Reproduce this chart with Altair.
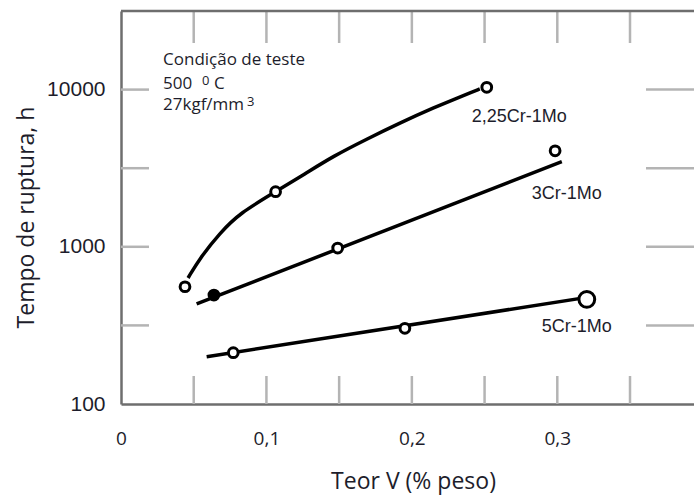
import altair as alt
import numpy as np
import pandas as pd

# ---- measured rupture times (h) versus vanadium content (% weight) ----
v_225 = [0.044, 0.1063, 0.2515]
t_225 = [557, 2241, 10340]
v_3 = [0.0639, 0.149, 0.2985]
t_3 = [493, 981, 4083]
v_5 = [0.0772, 0.1952, 0.3203]
t_5 = [212, 303, 463]

# ---- fitted trend curves ----
fit_v_225 = [0.0461, 0.0543, 0.068, 0.0818, 0.1063, 0.1265, 0.1457,
             0.1691, 0.1918, 0.2144, 0.2378, 0.2467]
fit_t_225 = [633, 849, 1224, 1641, 2241, 2910, 3760,
             4850, 6130, 7630, 9370, 10090]
fit_v_3 = [0.052, 0.3031]
fit_t_3 = [433, 3476]
fit_v_5 = [0.0589, 0.3237]
fit_t_5 = [200, 482]

# ---- series names and where they are written ----
alloys = ["2,25Cr-1Mo", "3Cr-1Mo", "5Cr-1Mo"]
label_v = [0.2412, 0.2825, 0.2893]
label_t = [6223, 2014, 287]

# ---- test condition note ----
note_text = ["Condição de teste", "500", "C", "27kgf/mm"]
note_v = [0.0289, 0.0289, 0.0639, 0.0289]
note_t = [14350, 10088, 10088, 7413]
sup_text = ["0", "3"]
sup_v = [0.0557, 0.0866]
sup_t = [10690, 7870]

# ---- axis ticks ----
x_labels = [0, 0.1, 0.2, 0.3]
y_labels = [100, 1000, 10000]
x_minor = [0.05, 0.1, 0.15, 0.2, 0.25, 0.3, 0.35]
y_minor = [316.2, 1000, 3162, 10000]

X_MAX = 0.394
Y_MIN, Y_MAX = 100, 10 ** 4.5
PLOT_W, PLOT_H = 573, 393
DECADES = np.log10(Y_MAX / Y_MIN)

TEXT = "#1d1d2b"
AXIS = "#6e6e6e"
TICK = "#b4b4b4"


def y_shift(t, px):
    return t * 10 ** (px * DECADES / PLOT_H)


def x_shift(v, px):
    return v + px * X_MAX / PLOT_W


points = pd.DataFrame({
    "alloy": [alloys[0]] * 3 + [alloys[1]] * 3 + [alloys[2]] * 3,
    "v": v_225 + v_3 + v_5,
    "t": t_225 + t_3 + t_5,
})
curve = pd.DataFrame({"alloy": alloys[0], "v": fit_v_225, "t": fit_t_225})
straight = pd.DataFrame({
    "alloy": [alloys[1]] * 2 + [alloys[2]] * 2,
    "v": fit_v_3 + fit_v_5,
    "t": fit_t_3 + fit_t_5,
})
labels = pd.DataFrame({"alloy": alloys, "v": label_v, "t": label_t})
notes = pd.DataFrame({"text": note_text, "v": note_v, "t": note_t})
sups = pd.DataFrame({"text": sup_text, "v": sup_v, "t": sup_t})

# inward tick segments on all four sides
rows = []
for v in x_minor:
    rows.append({"v": v, "v2": v, "t": Y_MIN, "t2": y_shift(Y_MIN, 28)})
    rows.append({"v": v, "v2": v, "t": Y_MAX, "t2": y_shift(Y_MAX, -32)})
for t in y_minor:
    rows.append({"v": 0, "v2": x_shift(0, 28), "t": t, "t2": t})
    rows.append({"v": x_shift(X_MAX, -48), "v2": X_MAX, "t": t, "t2": t})
ticks = pd.DataFrame(rows)

xscale = alt.Scale(domain=[0, X_MAX], nice=False, zero=False)
yscale = alt.Scale(type="log", domain=[Y_MIN, Y_MAX], nice=False)

x_axis = alt.Axis(
    values=x_labels,
    labelExpr="replace(format(datum.value, '.1~f'), '.', ',')",
    labelFont="Open Sans", labelFontSize=19, labelColor=TEXT,
    labelPadding=25, labelFlush=False,
    ticks=False, grid=False,
    domainColor=AXIS, domainWidth=2.5,
    title="Teor V (% peso)", titleFont="Open Sans", titleFontSize=23,
    titleFontWeight="normal", titleColor=TEXT,
    titleX=292, titleY=84, titleAlign="center", titleBaseline="alphabetic",
)
y_axis = alt.Axis(
    values=y_labels, format="d",
    labelFont="Liberation Sans", labelFontSize=21, labelColor=TEXT,
    labelPadding=16, ticks=False, grid=False,
    domainColor=AXIS, domainWidth=2.5,
    title="Tempo de ruptura, h", titleFont="Open Sans", titleFontSize=23,
    titleFontWeight="normal", titleColor=TEXT,
    titleX=-88, titleY=206, titleAngle=270,
    titleAlign="center", titleBaseline="alphabetic",
)

# smooth trend for 2,25Cr-1Mo; the other two alloys follow straight lines
curved_line = alt.Chart(curve).mark_line(
    color="black", strokeWidth=3.5, interpolate="basis"
).encode(
    x=alt.X("v:Q", scale=xscale, axis=x_axis),
    y=alt.Y("t:Q", scale=yscale, axis=y_axis),
)

straight_lines = alt.Chart(straight).mark_line(color="black", strokeWidth=3.5).encode(
    x=alt.X("v:Q", scale=xscale),
    y=alt.Y("t:Q", scale=yscale),
    detail="alloy:N",
)

markers = alt.Chart(points).mark_point(
    shape="circle", filled=True, stroke="black", strokeWidth=3, opacity=1
).encode(
    x=alt.X("v:Q", scale=xscale),
    y=alt.Y("t:Q", scale=yscale),
    fill=alt.condition(
        "datum.alloy == '3Cr-1Mo' && datum.v < 0.1", alt.value("black"), alt.value("white")
    ),
    size=alt.condition(
        "datum.alloy == '5Cr-1Mo' && datum.v > 0.3", alt.value(250), alt.value(95)
    ),
)

names = alt.Chart(labels).mark_text(
    align="left", baseline="alphabetic", font="Liberation Sans", fontSize=18, color=TEXT
).encode(
    x=alt.X("v:Q", scale=xscale),
    y=alt.Y("t:Q", scale=yscale),
    text="alloy:N",
)

note = alt.Chart(notes).mark_text(
    align="left", baseline="alphabetic", font="Open Sans", fontSize=17, color=TEXT
).encode(
    x=alt.X("v:Q", scale=xscale),
    y=alt.Y("t:Q", scale=yscale),
    text="text:N",
)

sup = alt.Chart(sups).mark_text(
    align="left", baseline="alphabetic", font="Open Sans", fontSize=13, color=TEXT
).encode(
    x=alt.X("v:Q", scale=xscale),
    y=alt.Y("t:Q", scale=yscale),
    text="text:N",
)

tick_marks = alt.Chart(ticks).mark_rule(color=TICK, strokeWidth=2.5).encode(
    x=alt.X("v:Q", scale=xscale),
    x2="v2:Q",
    y=alt.Y("t:Q", scale=yscale),
    y2="t2:Q",
)

top_border = alt.Chart(pd.DataFrame({"v": [0], "v2": [X_MAX], "t": [Y_MAX]})).mark_rule(
    color=AXIS, strokeWidth=2.5
).encode(
    x=alt.X("v:Q", scale=xscale),
    x2="v2:Q",
    y=alt.Y("t:Q", scale=yscale),
)

chart = alt.layer(
    tick_marks, top_border, curved_line, straight_lines, markers, names, note, sup
).properties(
    width=PLOT_W,
    height=PLOT_H,
    autosize=alt.AutoSizeParams(type="none"),
    padding={"left": 121, "top": 11, "right": 0, "bottom": 91},
    background="white",
).configure_view(stroke=None)

chart.save("out.html", embed_options={"renderer": "svg", "actions": False})
